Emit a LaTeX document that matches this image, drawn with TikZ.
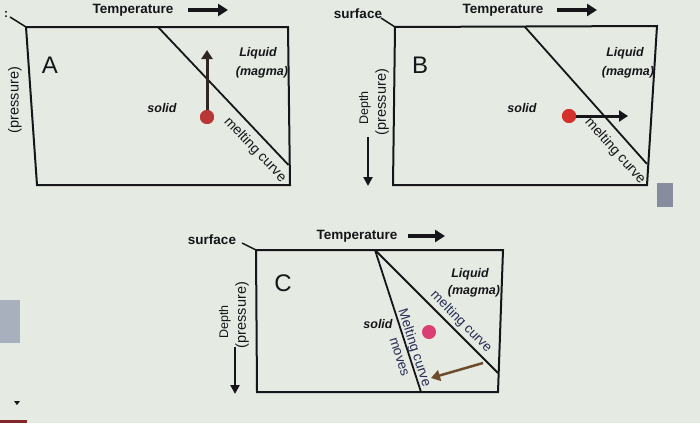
\documentclass[tikz,border=0pt]{standalone}
\usepackage{fontspec}
\setmainfont{Liberation Sans}
\usetikzlibrary{arrows.meta}
\definecolor{bg}{RGB}{229,234,226}
\definecolor{ink}{RGB}{22,22,26}
\definecolor{navy}{RGB}{40,44,85}
\definecolor{dotA}{RGB}{185,55,55}
\definecolor{dotB}{RGB}{214,48,45}
\definecolor{dotC}{RGB}{218,62,115}
\definecolor{brownarr}{RGB}{110,75,42}
\definecolor{thumb}{RGB}{135,140,158}
\definecolor{strip}{RGB}{168,176,190}
\begin{document}
\begin{tikzpicture}[x=1pt,y=-1pt,
  boxline/.style={draw=ink, line width=2pt, line join=miter},
  curveline/.style={draw=ink, line width=1.8pt},
  temptext/.style={font=\fontsize{13.5}{14}\selectfont\bfseries, text=ink, inner sep=0pt},
  temparrow/.style={draw=ink, line width=3.5pt, -{Triangle[length=10pt,width=12pt]}},
  phase/.style={font=\fontsize{12.5}{13}\selectfont\bfseries\itshape, text=ink, inner sep=0pt},
  bigletter/.style={font=\fontsize{24}{24}\selectfont, text=ink, inner sep=0pt},
  mclabel/.style={font=\fontsize{14}{14}\selectfont, text=ink, inner sep=0pt},
  navylabel/.style={font=\fontsize{13.5}{14}\selectfont, text=navy, inner sep=0pt},
  depthtext/.style={font=\fontsize{12.5}{13}\selectfont, text=ink, inner sep=0pt, rotate=90},
  presstext/.style={font=\fontsize{14.5}{15}\selectfont, text=ink, inner sep=0pt, rotate=90},
  surftext/.style={font=\fontsize{13.5}{14}\selectfont\bfseries, text=ink, inner sep=0pt},
  leader/.style={draw=ink, line width=1.5pt},
  meltdot/.style={circle, minimum size=14pt, inner sep=0pt},
  moveArrow/.style={line width=3pt, -{Triangle[length=9pt,width=11pt]}},
  deptharrow/.style={draw=ink, line width=2.5pt, -{Triangle[length=9pt,width=9pt]}}
]
\useasboundingbox[fill=bg] (0,0) rectangle (700,423);

% screen artifacts
\fill[thumb] (657,183) rectangle (673,207);
\fill[strip] (0,300) rectangle (20,343);
\fill[ink] (14,401) -- (20,401) -- (17,405) -- cycle;
\fill[dotA!70!black] (0,420) rectangle (27,423);
\node[font=\fontsize{12}{12}\selectfont\bfseries, text=ink, inner sep=0pt] (cutA) at (6,14) {:};

% ================= Panel A =================
\coordinate (A1) at (26,27);
\coordinate (A2) at (288,27);
\coordinate (A3) at (290,185);
\coordinate (A4) at (37,185);
\draw[boxline] (A1) -- (A2) -- (A3) -- (A4) -- cycle;
\coordinate (Ac1) at (158,27);
\coordinate (Ac2) at (288.5,165);
\draw[curveline] (Ac1) -- (Ac2);
\coordinate (Alead) at (10,17);
\draw[leader] (Alead) -- (A1);

\node[temptext] (tempA) at (133,10) {Temperature};
\coordinate (tA1) at (188,10);
\coordinate (tA2) at (228,10);
\draw[temparrow] (tA1) -- (tA2);

\node[bigletter] (letA) at (50,65) {A};
\node[phase] (liqA) at (258,53) {Liquid};
\node[phase] (magA) at (262,72) {(magma)};
\node[phase] (solA) at (162,108) {solid};
\node[mclabel, rotate=-46.5] (mcA) at (255,150) {melting curve};
\node[presstext] (prA) at (15,100) {(pressure)};

\node[meltdot, fill=dotA] (dA) at (207,117) {};
\coordinate (aA) at (207,50);
\draw[ink!85!brown, moveArrow] (dA.center) -- (aA);
\node[meltdot, fill=dotA] at (dA) {};

% ================= Panel B =================
\coordinate (B1) at (395,27);
\coordinate (B2) at (657,26);
\coordinate (B3) at (647,185);
\coordinate (B4) at (393,185);
\draw[boxline] (B1) -- (B2) -- (B3) -- (B4) -- cycle;
\coordinate (Bc1) at (525,27);
\coordinate (Bc2) at (647,164);
\draw[curveline] (Bc1) -- (Bc2);

\node[surftext] (surfB) at (358,14) {surface};
\coordinate (Blead) at (381,18);
\draw[leader] (Blead) -- (B1);

\node[temptext] (tempB) at (503,10) {Temperature};
\coordinate (tB1) at (557,10);
\coordinate (tB2) at (597,10);
\draw[temparrow] (tB1) -- (tB2);

\node[bigletter] (letB) at (420,65) {B};
\node[phase] (liqB) at (625,53) {Liquid};
\node[phase] (magB) at (628,72) {(magma)};
\node[phase] (solB) at (522,108) {solid};
\node[mclabel, rotate=-48.3] (mcB) at (615,151) {melting curve};
\node[depthtext] (depB) at (365,108) {Depth};
\node[presstext] (prB) at (382,102) {(pressure)};
\coordinate (dB1) at (368,137);
\coordinate (dB2) at (368,186);
\draw[deptharrow] (dB1) -- (dB2);

\node[meltdot, fill=dotB] (dBt) at (569,116) {};
\coordinate (aB) at (628,116);
\draw[ink, moveArrow] (dBt.center) -- (aB);
\node[meltdot, fill=dotB] at (dBt) {};

% ================= Panel C =================
\coordinate (C1) at (256,250);
\coordinate (C2) at (503,250);
\coordinate (C3) at (498,392);
\coordinate (C4) at (257,392);
\draw[boxline] (C1) -- (C2) -- (C3) -- (C4) -- cycle;
\coordinate (Cc0) at (375,250);
\coordinate (Cc1) at (498,373);
\coordinate (Cc2) at (421,392);
\draw[curveline] (Cc0) -- (Cc1);
\draw[curveline] (Cc0) -- (Cc2);

\node[surftext] (surfC) at (212,240) {surface};
\coordinate (Clead) at (242,243);
\draw[leader] (Clead) -- (C1);

\node[temptext] (tempC) at (357,236) {Temperature};
\coordinate (tC1) at (408,236);
\coordinate (tC2) at (445,236);
\draw[temparrow] (tC1) -- (tC2);

\node[bigletter] (letC) at (283,283) {C};
\node[phase] (liqC) at (470,274) {Liquid};
\node[phase] (magC) at (474,291) {(magma)};
\node[phase] (solC) at (378,324) {solid};
\node[navylabel, rotate=-45.2] (mcC) at (461,322) {melting curve};
\node[navylabel, rotate=-72] (mcC2) at (414,348) {Melting curve};
\node[navylabel, rotate=-72] (movC) at (399,357) {moves};
\node[depthtext] (depC) at (225,322) {Depth};
\node[presstext] (prC) at (242,315) {(pressure)};
\coordinate (dC1) at (235,347);
\coordinate (dC2) at (235,394);
\draw[deptharrow] (dC1) -- (dC2);

\node[meltdot, fill=dotC] (dCt) at (429,332) {};
\coordinate (bC1) at (483,363);
\coordinate (bC2) at (431,378);
\draw[brownarr, moveArrow, line width=2.5pt] (bC1) -- (bC2);

\end{tikzpicture}
\end{document}
